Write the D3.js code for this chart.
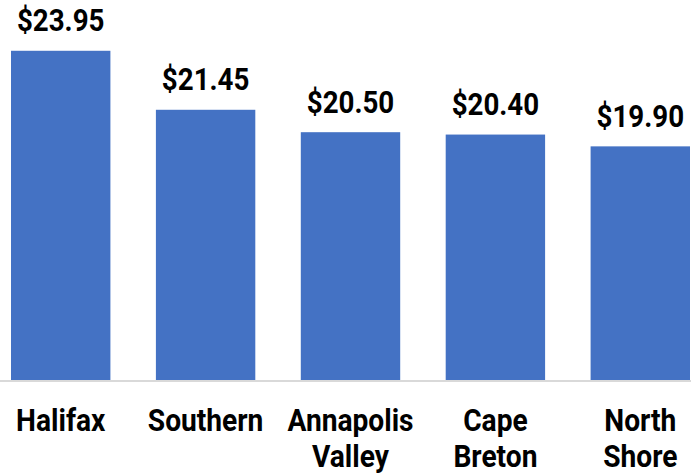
<!DOCTYPE html>
<html>
<head>
<meta charset="utf-8">
<script src="https://cdn.jsdelivr.net/npm/d3@7"></script>
<style>
  body { margin: 0; background: #fff; }
  svg { display: block; }
</style>
</head>
<body>
<div id="chart"></div>
<script>
const regions = ['Halifax', 'Southern', 'Annapolis Valley', 'Cape Breton', 'North Shore']
const wages = [23.95, 21.45, 20.50, 20.40, 19.90]
const yDomain = [10, 24]

const width = 691
const height = 475
const baseline = 380
// squeeze Roboto a bit so it reads like the condensed face in the original
const squeeze = 0.88

const data = regions.map((r, i) => ({ region: r, wage: wages[i] }))

const svg = d3.select('#chart')
  .append('svg')
  .attr('width', width)
  .attr('height', height)

const xScale = d3.scaleBand()
  .range([11, 690])
  .paddingInner(0.314)
  .paddingOuter(0)
  .domain(regions)

const yScale = d3.scaleLinear()
  .range([baseline, 49.6])
  .domain(yDomain)

const cx = d => xScale(d.region) + xScale.bandwidth() / 2

svg.selectAll('.bar')
  .data(data)
  .enter()
  .append('rect')
  .attr('class', 'bar')
  .attr('x', d => xScale(d.region))
  .attr('y', d => yScale(d.wage))
  .attr('width', xScale.bandwidth())
  .attr('height', d => baseline - yScale(d.wage))
  .attr('fill', '#4472c4')

// axis baseline across full width
svg.append('line')
  .attr('x1', 0)
  .attr('x2', width)
  .attr('y1', baseline + 1)
  .attr('y2', baseline + 1)
  .attr('stroke', '#d9d9d9')
  .attr('stroke-width', 2)

svg.selectAll('.value')
  .data(data)
  .enter()
  .append('text')
  .attr('class', 'value')
  .text(d => `$${d.wage.toFixed(2)}`)
  .attr('transform', d => `translate(${cx(d)},${yScale(d.wage) - 19.5}) scale(${squeeze},1)`)
  .attr('text-anchor', 'middle')
  .attr('font-family', 'Roboto, sans-serif')
  .attr('font-weight', 'bold')
  .attr('font-size', '31.5px')
  .attr('fill', '#000')

const labels = svg.selectAll('.label')
  .data(data)
  .enter()
  .append('text')
  .attr('class', 'label')
  .attr('transform', d => `translate(${cx(d)},431) scale(${squeeze},1)`)
  .attr('text-anchor', 'middle')
  .attr('font-family', 'Roboto, sans-serif')
  .attr('font-weight', 'bold')
  .attr('font-size', '32px')
  .attr('fill', '#000')

labels.selectAll('tspan')
  .data(d => d.region.split(' '))
  .enter()
  .append('tspan')
  .attr('x', 0)
  .attr('y', (d, i) => i * 36)
  .text(d => d)
</script>
</body>
</html>
